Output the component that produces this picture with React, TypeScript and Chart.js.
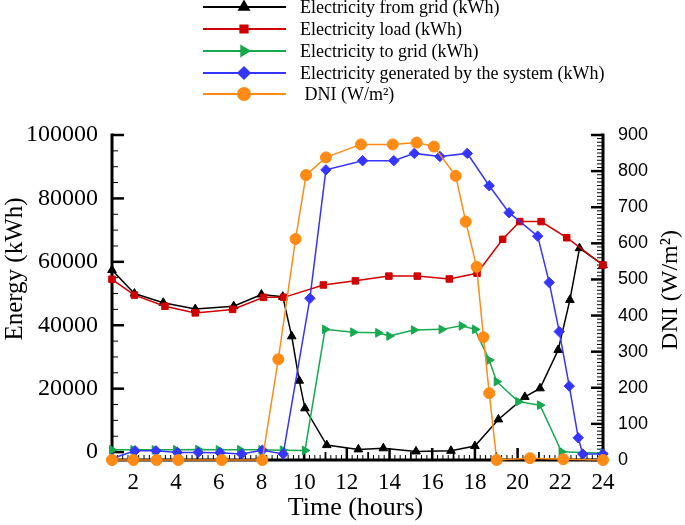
import React, { useEffect, useRef } from 'react';
import { Chart, registerables } from 'chart.js';
import { drawPoint } from 'chart.js/helpers';

Chart.register(...registerables);

// ---- data ----
const gridHours = [1, 2.05, 3.4, 4.9, 6.7, 8.0, 9.0, 9.42, 9.77, 10.04, 11.06, 12.54, 13.71, 15.24, 16.88, 18.0, 19.1, 20.34, 21.05, 21.9, 22.45, 22.9, 24];
const gridValues = [57400, 50000, 47100, 45100, 46000, 49700, 49000, 36500, 22500, 13800, 2200, 850, 1200, 200, 400, 1900, 10300, 17400, 20100, 32200, 48000, 64300, 59000];

const loadHours = [1, 2.05, 3.48, 4.9, 6.65, 8.1, 9.05, 10.9, 12.4, 13.97, 15.3, 16.8, 18.1, 19.3, 20.1, 21.1, 22.3, 24];
const loadValues = [54500, 49500, 46000, 43900, 45000, 48800, 48800, 52700, 54000, 55500, 55500, 54600, 56400, 67100, 72700, 72700, 67600, 59000];

const toGridHours = [1, 2, 3, 4, 5.04, 6, 7, 8, 9, 10.04, 10.98, 12.3, 13.47, 13.99, 15.14, 16.44, 17.38, 18.0, 18.67, 19.02, 20.03, 21.05, 22.06, 24];
const toGridValues = [700, 700, 700, 700, 800, 700, 700, 700, 600, 500, 38700, 37800, 37600, 36600, 38500, 38700, 39800, 38700, 29000, 22200, 15900, 14800, 100, -400];

const generatedHours = [1, 2.08, 3.06, 4.06, 5.04, 6.06, 7.07, 8.04, 9.02, 10.27, 11.02, 12.74, 14.2, 15.16, 16.36, 17.64, 18.67, 19.6, 20.94, 21.48, 21.95, 22.42, 22.84, 23.05, 24];
const generatedValues = [-2000, 400, 400, -100, -100, -200, -600, 600, -600, 48500, 89000, 91900, 91900, 94200, 93200, 94200, 84000, 75500, 68100, 53500, 38000, 20800, 4500, -600, -600];

const dniHours = [1, 2, 3.09, 4.1, 6.14, 8.04, 8.79, 9.6, 10.09, 11.02, 12.66, 14.15, 15.27, 16.08, 17.1, 17.57, 18.08, 18.4, 18.67, 19.02, 20.58, 22.14, 24];
const dniValues = [0, 0, 0, 0, 0, 0, 279, 612, 789, 838, 874, 874, 879, 868, 787, 660, 535, 340, 185, 0, 5, 2, 0];

const xTickLabels = [2, 4, 6, 8, 10, 12, 14, 16, 18, 20, 22, 24];
const energyTicks = [0, 20000, 40000, 60000, 80000, 100000];
const dniTicks = [0, 100, 200, 300, 400, 500, 600, 700, 800, 900];

const seriesNames = [
  'Electricity from grid (kWh)',
  'Electricity load (kWh)',
  'Electricity to grid (kWh)',
  'Electricity generated by the system (kWh)',
  ' DNI (W/m\u00B2)',
];
const xTitle = 'Time (hours)';
const yTitle = 'Energy (kWh)';
const y1Title = 'DNI (W/m\u00B2)';

const COLORS = ['#000000', '#d10000', '#16a94f', '#3535ff', '#ff8a14'];
const STYLES: any[] = [
  { pointStyle: 'triangle', rotation: 0, radius: 5 },
  { pointStyle: 'rect', rotation: 0, radius: 4.6 },
  { pointStyle: 'triangle', rotation: 90, radius: 5 },
  { pointStyle: 'rectRot', rotation: 0, radius: 5.2 },
  { pointStyle: 'circle', rotation: 0, radius: 5.5 },
];

const SERIF = '"Liberation Serif", "Times New Roman", serif';
const SANS = '"Liberation Sans", Arial, sans-serif';

const pts = (xs: number[], ys: number[]) => xs.map((x, i) => ({ x, y: ys[i] }));

const framePlugin = {
  id: 'frame',
  beforeDatasetsDraw(chart: any) {
    const { ctx, chartArea: a, scales } = chart;
    const sx = scales.x, sy = scales.y, sy1 = scales.y1;
    ctx.save();
    ctx.strokeStyle = '#000';
    const line = (x1: number, y1: number, x2: number, y2: number, w: number) => {
      ctx.lineWidth = w;
      ctx.beginPath();
      ctx.moveTo(x1, y1);
      ctx.lineTo(x2, y2);
      ctx.stroke();
    };
    // left ticks
    for (let v = 0; v <= 100000; v += 5000) {
      const y = sy.getPixelForValue(v);
      const major = v % 20000 === 0;
      line(a.left, y, a.left + (major ? 12 : 6), y, major ? 2.5 : 1);
    }
    // right ticks
    for (let v = 0; v <= 900; v += 10) {
      const y = sy1.getPixelForValue(v);
      const major = v % 100 === 0;
      line(a.right, y, a.right - (major ? 12 : 6), y, major ? 2.5 : 1);
    }
    // x ticks
    for (let q = 4; q <= 96; q++) {
      const h = q / 4;
      const x = sx.getPixelForValue(h);
      const even = q % 8 === 0;
      const whole = q % 4 === 0;
      line(x, a.bottom, x, a.bottom - (even ? 12 : whole ? 8 : 5), even ? 2.5 : whole ? 1.8 : 1);
    }
    // axes
    ctx.lineCap = 'square';
    line(a.left, a.top, a.left, a.bottom, 3);
    line(a.right, a.top, a.right, a.bottom, 3);
    line(a.left, a.bottom, a.right, a.bottom, 3);
    ctx.restore();
  },
  afterDraw(chart: any) {
    const { ctx, chartArea: a } = chart;
    ctx.save();
    ctx.fillStyle = '#000';
    // x title
    ctx.font = `26px ${SERIF}`;
    ctx.textAlign = 'center';
    ctx.textBaseline = 'middle';
    ctx.fillText(xTitle, (a.left + a.right) / 2 - 2, 508);
    // left title
    ctx.save();
    ctx.font = `25px ${SERIF}`;
    ctx.translate(15, 269);
    ctx.rotate(-Math.PI / 2);
    ctx.fillText(yTitle, 0, 0);
    ctx.restore();
    // right title
    ctx.save();
    ctx.font = `24px ${SERIF}`;
    ctx.translate(671, 290);
    ctx.rotate(-Math.PI / 2);
    ctx.fillText(y1Title, 0, 0);
    ctx.restore();
    // legend
    ctx.font = `18px ${SERIF}`;
    ctx.textAlign = 'left';
    ctx.textBaseline = 'middle';
    const rows = [7, 29, 51, 73, 94];
    seriesNames.forEach((name, i) => {
      const y = rows[i];
      ctx.strokeStyle = COLORS[i];
      ctx.fillStyle = COLORS[i];
      ctx.lineWidth = 2;
      ctx.beginPath();
      ctx.moveTo(203, y);
      ctx.lineTo(286, y);
      ctx.stroke();
      drawPoint(ctx, { ...STYLES[i], radius: STYLES[i].radius + 0.5, borderWidth: 1 }, 244, y);
      ctx.fillStyle = '#000';
      ctx.fillText(name, 300, y + 1);
    });
    ctx.restore();
  },
};

export default function App() {
  const ref = useRef<HTMLCanvasElement>(null);
  useEffect(() => {
    const canvas = ref.current;
    if (!canvas) return;
    const series = [
      { hours: gridHours, values: gridValues, axis: 'y' },
      { hours: loadHours, values: loadValues, axis: 'y' },
      { hours: toGridHours, values: toGridValues, axis: 'y' },
      { hours: generatedHours, values: generatedValues, axis: 'y' },
      { hours: dniHours, values: dniValues, axis: 'y1' },
    ];
    const orders = [4, 3, 2, 1, 0];
    const chart = new Chart(canvas, {
      type: 'line',
      data: {
        datasets: series.map((s, i) => ({
          label: seriesNames[i],
          data: pts(s.hours, s.values),
          yAxisID: s.axis,
          borderColor: COLORS[i],
          backgroundColor: COLORS[i],
          borderWidth: 1.5,
          pointStyle: STYLES[i].pointStyle,
          rotation: STYLES[i].rotation,
          pointRadius: STYLES[i].radius,
          pointBorderWidth: 1,
          tension: 0,
          fill: false,
          clip: false as any,
          order: orders[i],
        })),
      },
      options: {
        animation: false,
        responsive: false,
        maintainAspectRatio: false,
        layout: { padding: { top: 135, left: 0, right: 0, bottom: 0 } },
        plugins: { legend: { display: false }, tooltip: { enabled: false } },
        scales: {
          x: {
            type: 'linear',
            min: 1,
            max: 24,
            grid: { display: false },
            border: { display: false },
            afterBuildTicks: (s: any) => { s.ticks = xTickLabels.map((v) => ({ value: v })); },
            afterFit: (s: any) => { s.height = 65; },
            ticks: {
              color: '#000',
              padding: 1,
              maxRotation: 0,
              autoSkip: false,
              font: { family: SERIF, size: 23 },
              callback: (v: any) => String(v),
            },
          },
          y: {
            type: 'linear',
            position: 'left',
            min: -2500,
            max: 100000,
            grid: { display: false },
            border: { display: false },
            afterBuildTicks: (s: any) => { s.ticks = energyTicks.map((v) => ({ value: v })); },
            afterFit: (s: any) => { s.width = 112; },
            ticks: {
              color: '#000',
              padding: 6,
              autoSkip: false,
              font: { family: SERIF, size: 24 },
              callback: (v: any) => String(v),
            },
          },
          y1: {
            type: 'linear',
            position: 'right',
            min: 0,
            max: 900,
            grid: { display: false },
            border: { display: false },
            afterBuildTicks: (s: any) => { s.ticks = dniTicks.map((v) => ({ value: v })); },
            afterFit: (s: any) => { s.width = 82; },
            ticks: {
              color: '#000',
              padding: 7,
              autoSkip: false,
              font: { family: SANS, size: 18 },
              callback: (v: any) => String(v),
            },
          },
        },
      } as any,
      plugins: [framePlugin],
    });
    return () => chart.destroy();
  }, []);
  return (
    <div style={{ position: 'fixed', left: 0, top: 0, width: 685, height: 525, background: '#fff' }}>
      <canvas ref={ref} width={685} height={525} style={{ display: 'block', width: 685, height: 525 }} />
    </div>
  );
}
